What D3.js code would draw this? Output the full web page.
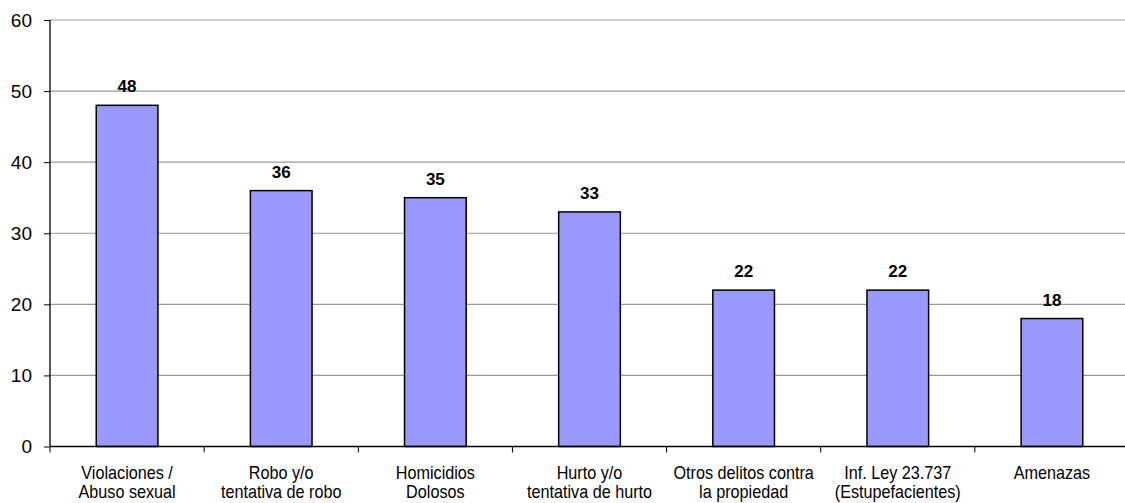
<!DOCTYPE html>
<html>
<head>
<meta charset="utf-8">
<script src="https://cdn.jsdelivr.net/npm/d3@7"></script>
<style>
  body { margin: 0; background: #fff; }
  text { font-family: "Liberation Sans", Arial, sans-serif; }
</style>
</head>
<body>
<div id="graph"></div>
<script>
const categories = [
    ["Violaciones /", "Abuso sexual"],
    ["Robo y/o", "tentativa de robo"],
    ["Homicidios", "Dolosos"],
    ["Hurto y/o", "tentativa de hurto"],
    ["Otros delitos contra", "la propiedad"],
    ["Inf. Ley 23.737", "(Estupefacientes)"],
    ["Amenazas"]
]
const values = [48, 36, 35, 33, 22, 22, 18]
const yTicks = [0, 10, 20, 30, 40, 50, 60]

const width = 1125
const height = 503
const padLeft = 50, padRight = 1129, padTop = 20, padBottom = 446.5

const svg = d3.select('#graph')
    .append('svg')
    .attr('width', width)
    .attr('height', height)

const xScale = d3.scaleBand().domain(d3.range(values.length)).range([padLeft, padRight])
const yScale = d3.scaleLinear().domain([0, 60]).range([padBottom, padTop])

// gridlines
svg.append('g')
    .selectAll('line')
    .data(yTicks.filter(d => d > 0))
    .enter()
    .append('line')
    .attr('x1', padLeft).attr('x2', width)
    .attr('y1', d => yScale(d)).attr('y2', d => yScale(d))
    .attr('stroke', '#999')
    .attr('stroke-width', 1.2)

// y axis
const yAxis = d3.axisLeft(yScale).tickValues(yTicks).tickSize(6).tickPadding(12)
const gy = svg.append('g')
    .attr('transform', `translate(${padLeft},0)`)
    .call(yAxis)
gy.select('.domain').remove()
gy.selectAll('.tick line').attr('stroke', '#000')
gy.selectAll('.tick text').attr('font-size', 19).attr('fill', '#000')
    .style('font-family', '"Liberation Sans", Arial, sans-serif')
svg.append('line')
    .attr('x1', padLeft).attr('x2', padLeft)
    .attr('y1', padTop).attr('y2', padBottom)
    .attr('stroke', '#000').attr('stroke-width', 1.3)

// bars
const barW = xScale.bandwidth() * 0.4
svg.append('g')
    .selectAll('rect')
    .data(values)
    .enter()
    .append('rect')
    .attr('x', (d, i) => xScale(i) + (xScale.bandwidth() - barW) / 2)
    .attr('y', d => yScale(d))
    .attr('width', barW)
    .attr('height', d => padBottom - yScale(d))
    .attr('fill', '#9999ff')
    .attr('stroke', '#000')
    .attr('stroke-width', 1.5)

// value labels
svg.append('g')
    .selectAll('text')
    .data(values)
    .enter()
    .append('text')
    .attr('x', (d, i) => xScale(i) + xScale.bandwidth() / 2)
    .attr('y', d => yScale(d) - 13)
    .attr('text-anchor', 'middle')
    .attr('font-size', 17)
    .attr('font-weight', 'bold')
    .text(d => d)

// x axis
svg.append('line')
    .attr('x1', padLeft).attr('x2', width)
    .attr('y1', padBottom).attr('y2', padBottom)
    .attr('stroke', '#000').attr('stroke-width', 1.3)
svg.append('g')
    .selectAll('line')
    .data(d3.range(values.length + 1))
    .enter()
    .append('line')
    .attr('x1', i => i < values.length ? xScale(i) : padRight)
    .attr('x2', i => i < values.length ? xScale(i) : padRight)
    .attr('y1', padBottom).attr('y2', padBottom + 6)
    .attr('stroke', '#000')

// category labels (slightly condensed like the original)
const cat = svg.append('g')
    .selectAll('text')
    .data(categories)
    .enter()
    .append('text')
    .attr('transform', (d, i) => `translate(${xScale(i) + xScale.bandwidth() / 2},479) scale(0.9,1)`)
    .attr('text-anchor', 'middle')
    .attr('font-size', 18)
cat.selectAll('tspan')
    .data(d => d)
    .enter()
    .append('tspan')
    .attr('x', 0)
    .attr('y', (d, j) => j * 19)
    .text(d => d)
</script>
</body>
</html>
